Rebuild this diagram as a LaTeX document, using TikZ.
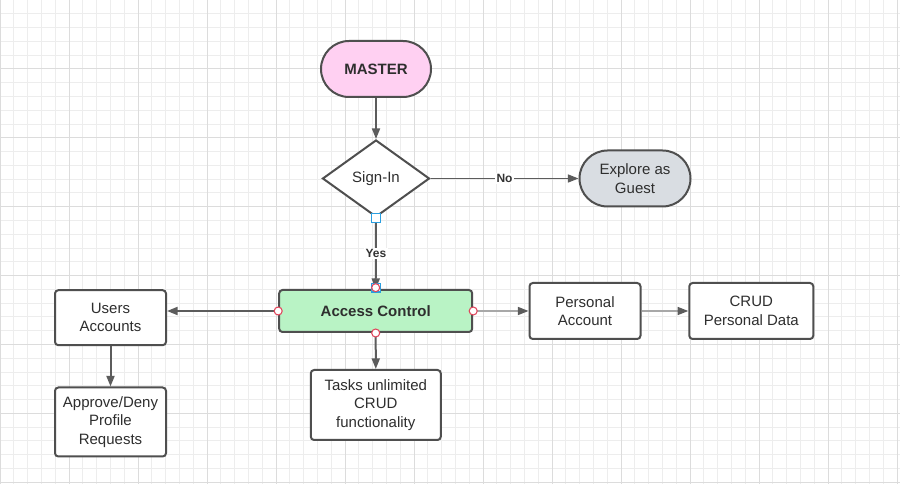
\documentclass[tikz,border=0pt]{standalone}
\usepackage{fontspec}
\setmainfont{Liberation Sans}
\usetikzlibrary{shapes.geometric,arrows.meta}
\definecolor{gridminor}{HTML}{EDEDED}
\definecolor{gridmajor}{HTML}{DCDCDC}
\definecolor{edge}{HTML}{4F4F4F}
\definecolor{conn}{HTML}{5C5C5C}
\definecolor{connlight}{HTML}{A8A8A8}
\definecolor{pinkfill}{HTML}{FFD0F2}
\definecolor{greenfill}{HTML}{B9F3C5}
\definecolor{greyfill}{HTML}{D9DDE2}
\definecolor{handlered}{HTML}{E0465C}
\definecolor{handleblue}{HTML}{2A9FE0}
\tikzset{
  txt/.style={font=\fontsize{11.25}{13.75}\selectfont, align=center, text=black!82},
  box/.style={txt, draw=edge, line width=1.5pt, rounded corners=2.5pt, fill=white, inner sep=2pt},
  stadiumbox/.style={txt, draw=edge, line width=1.5pt, rounded corners=21pt, inner sep=2pt},
  decision/.style={txt, diamond, draw=edge, line width=1.5pt, fill=white, inner sep=0pt},
  arrowline/.style={draw=conn, line width=1.5pt, -{Triangle[length=8pt,width=6pt]}},
  lightline/.style={draw=connlight, line width=1.2pt, -{Triangle[length=8pt,width=6pt,color=conn,fill=conn]}},
  lbl/.style={font=\fontsize{9}{10}\selectfont\bfseries, text=black!80, fill=white, inner sep=1pt},
  redhandle/.style={circle, draw=handlered, fill=white, line width=0.8pt, minimum size=6pt, inner sep=0pt},
  bluehandle/.style={rectangle, draw=handleblue, fill=white, line width=0.8pt, minimum size=6.5pt, inner sep=0pt}
}
\begin{document}
\begin{tikzpicture}[x=0.75pt,y=-0.75pt]
\fill[white] (0,0) rectangle (900,484);
\useasboundingbox (0,0) rectangle (900,484);
% grid
\foreach \k in {0,...,65} {
  \pgfmathsetmacro{\xx}{13.8*\k}
  \draw[gridminor, line width=0.75pt] (\xx,0) -- (\xx,484);
}
\foreach \k in {0,...,35} {
  \pgfmathsetmacro{\yy}{13.78*\k}
  \draw[gridminor, line width=0.75pt] (0,\yy) -- (900,\yy);
}
\foreach \k in {0,...,13} {
  \pgfmathsetmacro{\xx}{69*\k}
  \draw[gridmajor, line width=0.75pt] (\xx,0) -- (\xx,484);
}
\foreach \k in {0,...,7} {
  \pgfmathsetmacro{\yy}{68.9*\k}
  \draw[gridmajor, line width=0.75pt] (0,\yy) -- (900,\yy);
}
% nodes
\node[stadiumbox, fill=pinkfill, minimum width=82.5pt, minimum height=42pt] (master) at (376,69) {\bfseries MASTER};
\node[decision, minimum width=80.25pt, minimum height=57.75pt] (signin) at (376,178.5) {Sign-In};
\node[stadiumbox, fill=greyfill, minimum width=83.25pt, minimum height=42pt] (guest) at (635,178.5) {Explore as\\Guest};
\node[box, fill=greenfill, minimum width=144.75pt, minimum height=31.5pt] (access) at (375.7,311) {\bfseries Access Control};
\node[box, minimum width=83.25pt, minimum height=41.25pt] (users) at (110.5,317.7) {Users\\Accounts};
\node[box, minimum width=83.25pt, minimum height=51.75pt] (approve) at (110.5,422) {Approve/Deny\\Profile\\Requests};
\node[box, minimum width=97.5pt, minimum height=52.5pt] (tasks) at (375.8,405) {Tasks unlimited\\CRUD\\functionality};
\node[box, minimum width=83.25pt, minimum height=42pt] (personal) at (585,311) {Personal\\Account};
\node[box, minimum width=93pt, minimum height=42pt] (crud) at (751.3,311) {CRUD\\Personal Data};
\coordinate (usersin) at (users.east |- access.west);
% connectors
\draw[arrowline] (master.south) -- (signin.north);
\draw[arrowline] (signin.south) -- node[lbl] (yeslbl) {Yes} (access.north);
\draw[arrowline, line width=1.2pt] (signin.east) -- node[lbl] (nolbl) {No} (guest.west);
\draw[arrowline] (access.west) -- (usersin);
\draw[lightline] (access.east) -- (personal.west);
\draw[lightline] (personal.east) -- (crud.west);
\draw[arrowline] (users.south) -- (approve.north);
\draw[arrowline] (access.south) -- (tasks.north);
% selection handles
\node[bluehandle] (hsign) at (signin.south) {};
\node[bluehandle] (hacc) at ([yshift=1pt]access.north) {};
\node[redhandle] (rtop) at ([yshift=1pt]access.north) {};
\node[redhandle] (rleft) at (access.west) {};
\node[redhandle] (rright) at (access.east) {};
\node[redhandle] (rbottom) at (access.south) {};
\end{tikzpicture}
\end{document}
